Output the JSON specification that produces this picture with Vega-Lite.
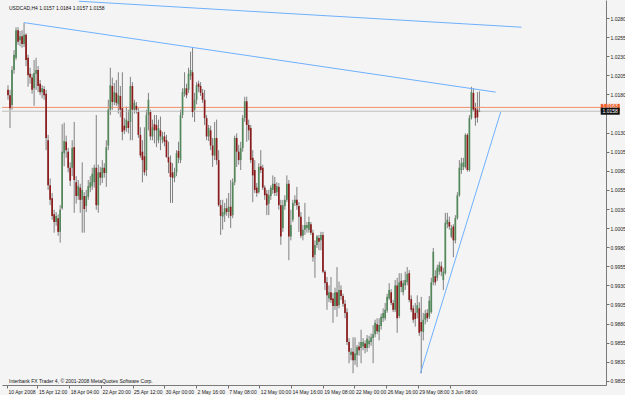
{
"$schema": "https://vega.github.io/schema/vega-lite/v6.json",
"width": 604, "height": 385,
"autosize": {"type": "none"},
"padding": {"left": 2, "top": 0, "right": 19, "bottom": 10},
"background": "#F4F4F4",
"config": {"view": {"stroke": null, "fill": "#F4F4F4"}, "font": "Liberation Sans",
 "axis": {"grid": false, "labelFontSize": 5, "labelColor": "#222222", "labelPadding": 1, "tickSize": 3, "tickColor": "#707070", "domainColor": "#7A7A7A", "labelOverlap": false, "labelBound": false, "labelFlush": false}},
"datasets": {
"bars": [
{"i":0,"o":1.0186,"h":1.0192,"l":1.0173,"c":1.0179},
{"i":1,"o":1.0179,"h":1.0186,"l":1.0136,"c":1.0162},
{"i":2,"o":1.0166,"h":1.0217,"l":1.0160,"c":1.0212},
{"i":3,"o":1.0212,"h":1.0238,"l":1.0207,"c":1.0232},
{"i":4,"o":1.0228,"h":1.0268,"l":1.0225,"c":1.0264},
{"i":5,"o":1.0264,"h":1.0268,"l":1.0245,"c":1.0249},
{"i":6,"o":1.0251,"h":1.0263,"l":1.0243,"c":1.0256},
{"i":7,"o":1.0256,"h":1.0264,"l":1.0241,"c":1.0246},
{"i":8,"o":1.0246,"h":1.0274,"l":1.0242,"c":1.0258},
{"i":9,"o":1.0258,"h":1.0260,"l":1.0217,"c":1.0225},
{"i":10,"o":1.0228,"h":1.0232,"l":1.0190,"c":1.0205},
{"i":11,"o":1.0207,"h":1.0215,"l":1.0194,"c":1.0202},
{"i":12,"o":1.0202,"h":1.0207,"l":1.0181,"c":1.0186},
{"i":13,"o":1.0188,"h":1.0225,"l":1.0165,"c":1.0208},
{"i":14,"o":1.0207,"h":1.0228,"l":1.0186,"c":1.0212},
{"i":15,"o":1.0212,"h":1.0217,"l":1.0183,"c":1.0191},
{"i":16,"o":1.0194,"h":1.0199,"l":1.0179,"c":1.0183},
{"i":17,"o":1.0183,"h":1.0192,"l":1.0175,"c":1.0188},
{"i":18,"o":1.0187,"h":1.0191,"l":1.0173,"c":1.0179},
{"i":19,"o":1.0181,"h":1.0186,"l":1.0107,"c":1.0123},
{"i":20,"o":1.0120,"h":1.0127,"l":1.0055,"c":1.0061},
{"i":21,"o":1.0061,"h":1.0070,"l":1.0035,"c":1.0042},
{"i":22,"o":1.0044,"h":1.0051,"l":1.0016,"c":1.0021},
{"i":23,"o":1.0023,"h":1.0029,"l":0.9999,"c":1.0013},
{"i":24,"o":1.0013,"h":1.0026,"l":1.0008,"c":1.0021},
{"i":25,"o":1.0018,"h":1.0023,"l":0.9995,"c":1.0000},
{"i":26,"o":1.0000,"h":1.0035,"l":0.9986,"c":1.0029},
{"i":27,"o":1.0031,"h":1.0141,"l":1.0029,"c":1.0105},
{"i":28,"o":1.0103,"h":1.0143,"l":1.0086,"c":1.0119},
{"i":29,"o":1.0118,"h":1.0126,"l":1.0097,"c":1.0107},
{"i":30,"o":1.0105,"h":1.0110,"l":1.0078,"c":1.0084},
{"i":31,"o":1.0084,"h":1.0091,"l":1.0060,"c":1.0067},
{"i":32,"o":1.0084,"h":1.0120,"l":1.0073,"c":1.0110},
{"i":33,"o":1.0111,"h":1.0144,"l":1.0025,"c":1.0068},
{"i":34,"o":1.0065,"h":1.0073,"l":1.0037,"c":1.0047},
{"i":35,"o":1.0047,"h":1.0068,"l":1.0042,"c":1.0060},
{"i":36,"o":1.0058,"h":1.0063,"l":1.0025,"c":1.0042},
{"i":37,"o":1.0042,"h":1.0091,"l":0.9999,"c":1.0055},
{"i":38,"o":1.0047,"h":1.0052,"l":0.9999,"c":1.0030},
{"i":39,"o":1.0034,"h":1.0055,"l":1.0026,"c":1.0047},
{"i":40,"o":1.0046,"h":1.0068,"l":1.0042,"c":1.0060},
{"i":41,"o":1.0058,"h":1.0073,"l":1.0052,"c":1.0065},
{"i":42,"o":1.0060,"h":1.0084,"l":1.0055,"c":1.0076},
{"i":43,"o":1.0065,"h":1.0088,"l":1.0058,"c":1.0084},
{"i":44,"o":1.0084,"h":1.0153,"l":1.0029,"c":1.0035},
{"i":45,"o":1.0035,"h":1.0088,"l":1.0025,"c":1.0078},
{"i":46,"o":1.0078,"h":1.0085,"l":1.0061,"c":1.0071},
{"i":47,"o":1.0071,"h":1.0094,"l":1.0064,"c":1.0084},
{"i":48,"o":1.0084,"h":1.0090,"l":1.0071,"c":1.0077},
{"i":49,"o":1.0077,"h":1.0120,"l":1.0059,"c":1.0111},
{"i":50,"o":1.0113,"h":1.0173,"l":1.0107,"c":1.0160},
{"i":51,"o":1.0160,"h":1.0215,"l":1.0153,"c":1.0192},
{"i":52,"o":1.0191,"h":1.0202,"l":1.0160,"c":1.0170},
{"i":53,"o":1.0170,"h":1.0195,"l":1.0166,"c":1.0183},
{"i":54,"o":1.0182,"h":1.0199,"l":1.0165,"c":1.0169},
{"i":55,"o":1.0167,"h":1.0209,"l":1.0155,"c":1.0179},
{"i":56,"o":1.0178,"h":1.0191,"l":1.0150,"c":1.0160},
{"i":57,"o":1.0162,"h":1.0209,"l":1.0120,"c":1.0131},
{"i":58,"o":1.0139,"h":1.0149,"l":1.0128,"c":1.0133},
{"i":59,"o":1.0136,"h":1.0164,"l":1.0131,"c":1.0147},
{"i":60,"o":1.0145,"h":1.0160,"l":1.0129,"c":1.0136},
{"i":61,"o":1.0144,"h":1.0203,"l":1.0120,"c":1.0191},
{"i":62,"o":1.0191,"h":1.0196,"l":1.0120,"c":1.0160},
{"i":63,"o":1.0160,"h":1.0173,"l":1.0155,"c":1.0169},
{"i":64,"o":1.0165,"h":1.0170,"l":1.0155,"c":1.0160},
{"i":65,"o":1.0157,"h":1.0162,"l":1.0123,"c":1.0127},
{"i":66,"o":1.0127,"h":1.0137,"l":1.0097,"c":1.0100},
{"i":67,"o":1.0105,"h":1.0120,"l":1.0065,"c":1.0094},
{"i":68,"o":1.0099,"h":1.0137,"l":1.0074,"c":1.0078},
{"i":69,"o":1.0081,"h":1.0160,"l":1.0073,"c":1.0153},
{"i":70,"o":1.0153,"h":1.0182,"l":1.0133,"c":1.0173},
{"i":71,"o":1.0157,"h":1.0160,"l":1.0120,"c":1.0125},
{"i":72,"o":1.0125,"h":1.0147,"l":1.0120,"c":1.0137},
{"i":73,"o":1.0141,"h":1.0153,"l":1.0116,"c":1.0133},
{"i":74,"o":1.0140,"h":1.0153,"l":1.0111,"c":1.0133},
{"i":75,"o":1.0120,"h":1.0147,"l":1.0116,"c":1.0136},
{"i":76,"o":1.0133,"h":1.0151,"l":1.0107,"c":1.0125},
{"i":77,"o":1.0120,"h":1.0131,"l":1.0116,"c":1.0125},
{"i":78,"o":1.0125,"h":1.0131,"l":1.0112,"c":1.0118},
{"i":79,"o":1.0120,"h":1.0127,"l":1.0097,"c":1.0098},
{"i":80,"o":1.0098,"h":1.0118,"l":1.0077,"c":1.0091},
{"i":81,"o":1.0091,"h":1.0100,"l":1.0038,"c":1.0072},
{"i":82,"o":1.0078,"h":1.0090,"l":1.0038,"c":1.0071},
{"i":83,"o":1.0071,"h":1.0084,"l":1.0065,"c":1.0078},
{"i":84,"o":1.0078,"h":1.0107,"l":1.0073,"c":1.0103},
{"i":85,"o":1.0106,"h":1.0118,"l":1.0090,"c":1.0097},
{"i":86,"o":1.0094,"h":1.0160,"l":1.0090,"c":1.0153},
{"i":87,"o":1.0153,"h":1.0188,"l":1.0149,"c":1.0183},
{"i":88,"o":1.0181,"h":1.0209,"l":1.0177,"c":1.0188},
{"i":89,"o":1.0188,"h":1.0194,"l":1.0175,"c":1.0179},
{"i":90,"o":1.0186,"h":1.0215,"l":1.0182,"c":1.0207},
{"i":91,"o":1.0204,"h":1.0236,"l":1.0199,"c":1.0212},
{"i":92,"o":1.0209,"h":1.0242,"l":1.0150,"c":1.0157},
{"i":93,"o":1.0160,"h":1.0182,"l":1.0144,"c":1.0173},
{"i":94,"o":1.0173,"h":1.0196,"l":1.0167,"c":1.0192},
{"i":95,"o":1.0194,"h":1.0198,"l":1.0183,"c":1.0190},
{"i":96,"o":1.0191,"h":1.0196,"l":1.0178,"c":1.0182},
{"i":97,"o":1.0182,"h":1.0187,"l":1.0169,"c":1.0173},
{"i":98,"o":1.0173,"h":1.0186,"l":1.0140,"c":1.0149},
{"i":99,"o":1.0149,"h":1.0153,"l":1.0120,"c":1.0125},
{"i":100,"o":1.0125,"h":1.0140,"l":1.0119,"c":1.0136},
{"i":101,"o":1.0133,"h":1.0139,"l":1.0107,"c":1.0113},
{"i":102,"o":1.0113,"h":1.0123,"l":1.0085,"c":1.0100},
{"i":103,"o":1.0100,"h":1.0144,"l":1.0094,"c":1.0123},
{"i":104,"o":1.0123,"h":1.0147,"l":1.0088,"c":1.0094},
{"i":105,"o":1.0094,"h":1.0107,"l":1.0033,"c":1.0035},
{"i":106,"o":1.0035,"h":1.0042,"l":0.9996,"c":1.0021},
{"i":107,"o":1.0020,"h":1.0042,"l":1.0003,"c":1.0026},
{"i":108,"o":1.0023,"h":1.0038,"l":1.0013,"c":1.0031},
{"i":109,"o":1.0031,"h":1.0044,"l":1.0021,"c":1.0026},
{"i":110,"o":1.0026,"h":1.0051,"l":1.0018,"c":1.0033},
{"i":111,"o":1.0033,"h":1.0068,"l":1.0005,"c":1.0021},
{"i":112,"o":1.0022,"h":1.0070,"l":1.0018,"c":1.0065},
{"i":113,"o":1.0065,"h":1.0126,"l":1.0061,"c":1.0123},
{"i":114,"o":1.0123,"h":1.0129,"l":1.0085,"c":1.0105},
{"i":115,"o":1.0105,"h":1.0114,"l":1.0088,"c":1.0094},
{"i":116,"o":1.0094,"h":1.0118,"l":1.0081,"c":1.0110},
{"i":117,"o":1.0110,"h":1.0153,"l":1.0105,"c":1.0149},
{"i":118,"o":1.0149,"h":1.0177,"l":1.0144,"c":1.0171},
{"i":119,"o":1.0171,"h":1.0177,"l":1.0118,"c":1.0140},
{"i":120,"o":1.0140,"h":1.0147,"l":1.0120,"c":1.0133},
{"i":121,"o":1.0136,"h":1.0140,"l":1.0090,"c":1.0094},
{"i":122,"o":1.0097,"h":1.0107,"l":1.0039,"c":1.0074},
{"i":123,"o":1.0081,"h":1.0094,"l":1.0051,"c":1.0055},
{"i":124,"o":1.0058,"h":1.0064,"l":1.0046,"c":1.0051},
{"i":125,"o":1.0052,"h":1.0090,"l":1.0050,"c":1.0085},
{"i":126,"o":1.0086,"h":1.0107,"l":1.0077,"c":1.0081},
{"i":127,"o":1.0084,"h":1.0088,"l":1.0055,"c":1.0058},
{"i":128,"o":1.0058,"h":1.0061,"l":1.0042,"c":1.0048},
{"i":129,"o":1.0050,"h":1.0055,"l":1.0022,"c":1.0035},
{"i":130,"o":1.0037,"h":1.0055,"l":1.0022,"c":1.0048},
{"i":131,"o":1.0047,"h":1.0061,"l":1.0042,"c":1.0058},
{"i":132,"o":1.0055,"h":1.0074,"l":1.0050,"c":1.0063},
{"i":133,"o":1.0063,"h":1.0072,"l":1.0047,"c":1.0051},
{"i":134,"o":1.0052,"h":1.0065,"l":1.0047,"c":1.0060},
{"i":135,"o":1.0059,"h":1.0064,"l":1.0029,"c":1.0035},
{"i":136,"o":1.0035,"h":1.0042,"l":0.9983,"c":0.9994},
{"i":137,"o":1.0005,"h":1.0042,"l":1.0000,"c":1.0035},
{"i":138,"o":1.0034,"h":1.0048,"l":1.0029,"c":1.0042},
{"i":139,"o":1.0042,"h":1.0074,"l":1.0039,"c":1.0063},
{"i":140,"o":1.0063,"h":1.0068,"l":0.9963,"c":0.9994},
{"i":141,"o":0.9994,"h":1.0029,"l":0.9989,"c":1.0009},
{"i":142,"o":1.0016,"h":1.0042,"l":1.0013,"c":1.0038},
{"i":143,"o":1.0038,"h":1.0048,"l":1.0034,"c":1.0042},
{"i":144,"o":1.0042,"h":1.0059,"l":1.0029,"c":1.0035},
{"i":145,"o":1.0034,"h":1.0039,"l":1.0000,"c":1.0020},
{"i":146,"o":1.0020,"h":1.0026,"l":0.9992,"c":0.9995},
{"i":147,"o":0.9995,"h":1.0009,"l":0.9989,"c":1.0003},
{"i":148,"o":1.0003,"h":1.0038,"l":0.9996,"c":1.0009},
{"i":149,"o":1.0005,"h":1.0013,"l":0.9999,"c":1.0009},
{"i":150,"o":1.0003,"h":1.0020,"l":0.9999,"c":1.0013},
{"i":151,"o":1.0010,"h":1.0013,"l":0.9996,"c":0.9999},
{"i":152,"o":0.9999,"h":1.0003,"l":0.9961,"c":0.9967},
{"i":153,"o":0.9970,"h":0.9989,"l":0.9940,"c":0.9983},
{"i":154,"o":0.9983,"h":0.9996,"l":0.9979,"c":0.9994},
{"i":155,"o":0.9992,"h":0.9996,"l":0.9976,"c":0.9987},
{"i":156,"o":0.9989,"h":1.0000,"l":0.9976,"c":0.9996},
{"i":157,"o":0.9996,"h":1.0000,"l":0.9946,"c":0.9948},
{"i":158,"o":0.9948,"h":0.9950,"l":0.9924,"c":0.9933},
{"i":159,"o":0.9934,"h":0.9941,"l":0.9898,"c":0.9917},
{"i":160,"o":0.9913,"h":0.9930,"l":0.9908,"c":0.9921},
{"i":161,"o":0.9921,"h":0.9941,"l":0.9907,"c":0.9911},
{"i":162,"o":0.9913,"h":0.9920,"l":0.9881,"c":0.9903},
{"i":163,"o":0.9903,"h":0.9927,"l":0.9898,"c":0.9921},
{"i":164,"o":0.9921,"h":0.9954,"l":0.9889,"c":0.9903},
{"i":165,"o":0.9904,"h":0.9935,"l":0.9900,"c":0.9924},
{"i":166,"o":0.9924,"h":0.9930,"l":0.9911,"c":0.9916},
{"i":167,"o":0.9916,"h":0.9919,"l":0.9902,"c":0.9906},
{"i":168,"o":0.9906,"h":0.9911,"l":0.9887,"c":0.9894},
{"i":169,"o":0.9895,"h":0.9900,"l":0.9852,"c":0.9856},
{"i":170,"o":0.9856,"h":0.9861,"l":0.9828,"c":0.9843},
{"i":171,"o":0.9839,"h":0.9848,"l":0.9832,"c":0.9843},
{"i":172,"o":0.9843,"h":0.9862,"l":0.9815,"c":0.9832},
{"i":173,"o":0.9832,"h":0.9862,"l":0.9826,"c":0.9841},
{"i":174,"o":0.9839,"h":0.9852,"l":0.9823,"c":0.9849},
{"i":175,"o":0.9850,"h":0.9856,"l":0.9838,"c":0.9845},
{"i":176,"o":0.9848,"h":0.9872,"l":0.9828,"c":0.9856},
{"i":177,"o":0.9850,"h":0.9861,"l":0.9845,"c":0.9856},
{"i":178,"o":0.9854,"h":0.9858,"l":0.9841,"c":0.9848},
{"i":179,"o":0.9848,"h":0.9865,"l":0.9843,"c":0.9860},
{"i":180,"o":0.9853,"h":0.9864,"l":0.9848,"c":0.9858},
{"i":181,"o":0.9856,"h":0.9867,"l":0.9851,"c":0.9862},
{"i":182,"o":0.9861,"h":0.9878,"l":0.9828,"c":0.9866},
{"i":183,"o":0.9866,"h":0.9885,"l":0.9862,"c":0.9881},
{"i":184,"o":0.9879,"h":0.9887,"l":0.9866,"c":0.9870},
{"i":185,"o":0.9869,"h":0.9887,"l":0.9858,"c":0.9878},
{"i":186,"o":0.9877,"h":0.9893,"l":0.9872,"c":0.9889},
{"i":187,"o":0.9887,"h":0.9900,"l":0.9882,"c":0.9894},
{"i":188,"o":0.9887,"h":0.9907,"l":0.9884,"c":0.9898},
{"i":189,"o":0.9897,"h":0.9919,"l":0.9894,"c":0.9915},
{"i":190,"o":0.9913,"h":0.9933,"l":0.9911,"c":0.9924},
{"i":191,"o":0.9921,"h":0.9925,"l":0.9904,"c":0.9907},
{"i":192,"o":0.9907,"h":0.9911,"l":0.9895,"c":0.9898},
{"i":193,"o":0.9898,"h":0.9937,"l":0.9895,"c":0.9930},
{"i":194,"o":0.9930,"h":0.9940,"l":0.9868,"c":0.9887},
{"i":195,"o":0.9890,"h":0.9946,"l":0.9887,"c":0.9934},
{"i":196,"o":0.9936,"h":0.9946,"l":0.9921,"c":0.9928},
{"i":197,"o":0.9921,"h":0.9937,"l":0.9917,"c":0.9933},
{"i":198,"o":0.9930,"h":0.9948,"l":0.9924,"c":0.9937},
{"i":199,"o":0.9934,"h":0.9954,"l":0.9930,"c":0.9945},
{"i":200,"o":0.9946,"h":0.9950,"l":0.9908,"c":0.9911},
{"i":201,"o":0.9912,"h":0.9917,"l":0.9895,"c":0.9898},
{"i":202,"o":0.9900,"h":0.9904,"l":0.9881,"c":0.9885},
{"i":203,"o":0.9894,"h":0.9907,"l":0.9876,"c":0.9886},
{"i":204,"o":0.9894,"h":0.9917,"l":0.9887,"c":0.9904},
{"i":205,"o":0.9900,"h":0.9908,"l":0.9864,"c":0.9868},
{"i":206,"o":0.9882,"h":0.9915,"l":0.9815,"c":0.9870},
{"i":207,"o":0.9869,"h":0.9894,"l":0.9858,"c":0.9885},
{"i":208,"o":0.9885,"h":0.9898,"l":0.9879,"c":0.9893},
{"i":209,"o":0.9894,"h":0.9899,"l":0.9882,"c":0.9887},
{"i":210,"o":0.9889,"h":0.9916,"l":0.9886,"c":0.9910},
{"i":211,"o":0.9895,"h":0.9940,"l":0.9893,"c":0.9934},
{"i":212,"o":0.9934,"h":0.9979,"l":0.9930,"c":0.9974},
{"i":213,"o":0.9942,"h":0.9950,"l":0.9930,"c":0.9934},
{"i":214,"o":0.9940,"h":0.9957,"l":0.9936,"c":0.9953},
{"i":215,"o":0.9948,"h":0.9961,"l":0.9944,"c":0.9957},
{"i":216,"o":0.9955,"h":0.9961,"l":0.9942,"c":0.9948},
{"i":217,"o":0.9937,"h":0.9953,"l":0.9924,"c":0.9948},
{"i":218,"o":0.9946,"h":1.0025,"l":0.9944,"c":1.0012},
{"i":219,"o":1.0010,"h":1.0025,"l":1.0005,"c":1.0016},
{"i":220,"o":1.0013,"h":1.0020,"l":1.0003,"c":1.0007},
{"i":221,"o":0.9994,"h":1.0009,"l":0.9992,"c":1.0005},
{"i":222,"o":1.0007,"h":1.0010,"l":0.9967,"c":0.9989},
{"i":223,"o":0.9989,"h":1.0022,"l":0.9985,"c":1.0018},
{"i":224,"o":1.0018,"h":1.0052,"l":1.0016,"c":1.0048},
{"i":225,"o":1.0048,"h":1.0094,"l":1.0046,"c":1.0084},
{"i":226,"o":1.0081,"h":1.0097,"l":1.0076,"c":1.0090},
{"i":227,"o":1.0085,"h":1.0097,"l":1.0081,"c":1.0091},
{"i":228,"o":1.0085,"h":1.0129,"l":1.0083,"c":1.0127},
{"i":229,"o":1.0127,"h":1.0129,"l":1.0079,"c":1.0081},
{"i":230,"o":1.0081,"h":1.0153,"l":1.0079,"c":1.0149},
{"i":231,"o":1.0149,"h":1.0190,"l":1.0147,"c":1.0183},
{"i":232,"o":1.0182,"h":1.0188,"l":1.0157,"c":1.0160},
{"i":233,"o":1.0162,"h":1.0169,"l":1.0139,"c":1.0149},
{"i":234,"o":1.0160,"h":1.0183,"l":1.0143,"c":1.0150},
{"i":235,"o":1.0157,"h":1.0184,"l":1.0157,"c":1.0158}
],
"trend": [
{"id":"a","i":8,"p":1.0274},{"id":"a","i":243.1,"p":1.0183},
{"id":"b","i":35.3,"p":1.0302},{"id":"b","i":255.9,"p":1.0268},
{"id":"c","i":205.6,"p":0.9815},{"id":"c","i":245.6,"p":1.0157}
],
"levels": [{"k":"ask","p":1.0163},{"k":"bid","p":1.0158}],
"notes": [{"t":"USDCAD,H4 1.0157 1.0184 1.0157 1.0158"}],
"copy": [{"t":"Interbank FX Trader 4, © 2001-2008 MetaQuotes Software Corp."}]
},
"layer": [
{"data":{"name":"bars"},"mark":{"type":"rule","color":"#808080","strokeWidth":1,"clip":true},
 "encoding":{"x":{"field":"i","type":"quantitative","title":null,"scale":{"domain":[-0.5,295.6],"nice":false,"zero":false},
   "axis":{"orient":"bottom","title":null,"tickCount":60,
    "values":[-0.5,14.7,30.5,46.3,62.1,77.9,93.7,109.5,125.3,141.1,156.9,172.7,188.5,204.3,220.1],
    "labelExpr":"['10 Apr 2008','15 Apr 12:00','18 Apr 04:00','22 Apr 20:00','25 Apr 12:00','30 Apr 00:00','2 May 16:00','7 May 08:00','12 May 00:00','14 May 16:00','19 May 08:00','22 May 00:00','26 May 16:00','29 May 08:00','3 Jun 08:00'][indexof([-0.5,14.7,30.5,46.3,62.1,77.9,93.7,109.5,125.3,141.1,156.9,172.7,188.5,204.3,220.1], datum.value)]",
    "labelAlign":"left","labelBaseline":"top","labelOffset":1,"domain":true,"labelOverlap":false,"labelBound":false,"labelFlush":false}},
  "y":{"field":"h","type":"quantitative","title":null,"scale":{"domain":[0.97996,1.03036],"nice":false,"zero":false},
   "axis":{"orient":"right","title":null,"tickCount":60,
    "values":[0.9805,0.983,0.9855,0.988,0.9905,0.993,0.9955,0.998,1.0005,1.003,1.0055,1.008,1.0105,1.013,1.018,1.0205,1.023,1.0255,1.028],
    "format":".4f","labelAlign":"left","labelBaseline":"middle","domain":true,"labelOverlap":false,"labelBound":false,"labelFlush":false}},
  "y2":{"field":"l"}}},
{"data":{"name":"levels"},"transform":[{"filter":"datum.k == 'ask'"}],"mark":{"type":"rule","color":"#F0906E","strokeWidth":1},
 "encoding":{"y":{"field":"p","type":"quantitative","title":null}}},
{"data":{"name":"levels"},"transform":[{"filter":"datum.k == 'bid'"}],"mark":{"type":"rule","color":"#BEBEBE","strokeWidth":1},
 "encoding":{"y":{"field":"p","type":"quantitative","title":null}}},
{"data":{"name":"trend"},"mark":{"type":"line","color":"#6EB0FF","strokeWidth":1,"clip":true},
 "encoding":{"x":{"field":"i","type":"quantitative","title":null},
  "y":{"field":"p","type":"quantitative","title":null},
  "detail":{"field":"id","type":"nominal"}}},
{"data":{"name":"bars"},"mark":{"type":"bar","width":1.7,"clip":true},
 "encoding":{"x":{"field":"i","type":"quantitative","title":null},
  "y":{"field":"o","type":"quantitative","title":null},
  "y2":{"field":"c"},
  "color":{"condition":{"test":"datum.c >= datum.o","value":"#52885A"},"value":"#8B1A1A"}}},
{"mark":{"type":"rule","color":"#7A7A7A","strokeWidth":1},"encoding":{"x":{"datum":-0.5,"type":"quantitative","title":null}}},
{"data":{"name":"notes"},"mark":{"type":"text","align":"left","baseline":"middle","fontSize":5,"color":"#111111","dx":1,"clip":false},
 "encoding":{"x":{"datum":0,"type":"quantitative","title":null},
  "y":{"datum":1.0293,"type":"quantitative","title":null},
  "text":{"field":"t"}}},
{"data":{"name":"copy"},"mark":{"type":"text","align":"left","baseline":"middle","fontSize":5,"color":"#111111","dx":1,"clip":false},
 "encoding":{"x":{"datum":0,"type":"quantitative","title":null},
  "y":{"datum":0.9805,"type":"quantitative","title":null},
  "text":{"field":"t"}}},
{"data":{"name":"levels"},"transform":[{"filter":"datum.k == 'ask'"}],"mark":{"type":"tick","orient":"horizontal","size":19,"thickness":7,"color":"#EE5A24","opacity":1,"clip":false},
 "encoding":{"x":{"datum":300.2,"type":"quantitative","title":null},
  "y":{"field":"p","type":"quantitative","title":null}}},
{"data":{"name":"levels"},"transform":[{"filter":"datum.k == 'ask'"}],"mark":{"type":"text","align":"center","baseline":"middle","fontSize":5,"color":"#FFFFFF","clip":false,"dy":-1},
 "encoding":{"x":{"datum":300.2,"type":"quantitative","title":null},
  "y":{"field":"p","type":"quantitative","title":null},
  "text":{"field":"p","type":"quantitative","format":".4f"}}},
{"data":{"name":"levels"},"transform":[{"filter":"datum.k == 'bid'"}],"mark":{"type":"tick","orient":"horizontal","size":19,"thickness":7,"color":"#111111","opacity":1,"clip":false},
 "encoding":{"x":{"datum":300.2,"type":"quantitative","title":null},
  "y":{"field":"p","type":"quantitative","title":null}}},
{"data":{"name":"levels"},"transform":[{"filter":"datum.k == 'bid'"}],"mark":{"type":"text","align":"center","baseline":"middle","fontSize":5,"color":"#FFFFFF","clip":false},
 "encoding":{"x":{"datum":300.2,"type":"quantitative","title":null},
  "y":{"field":"p","type":"quantitative","title":null},
  "text":{"field":"p","type":"quantitative","format":".4f"}}}
]
}
